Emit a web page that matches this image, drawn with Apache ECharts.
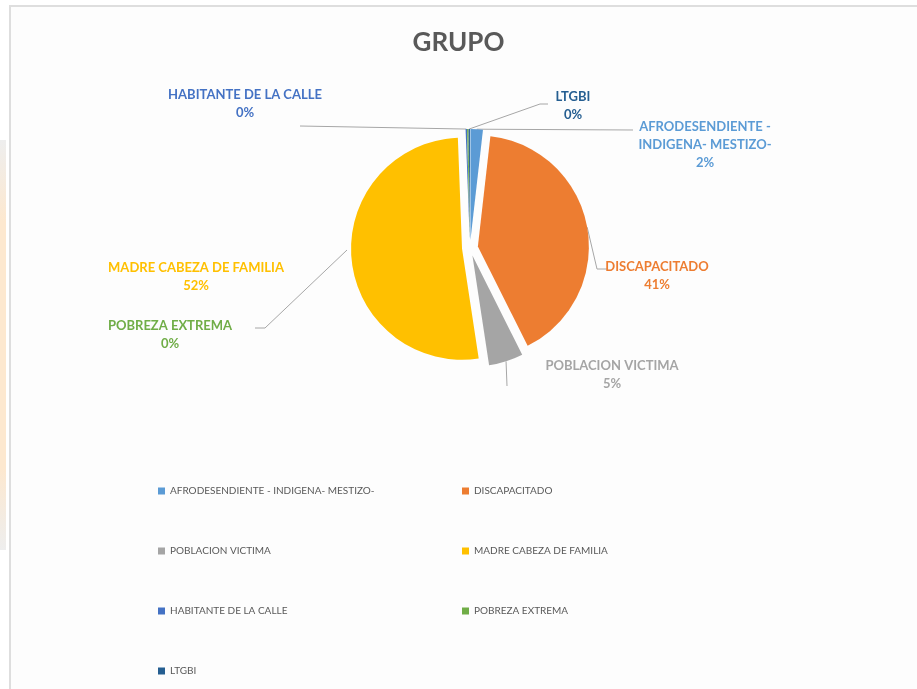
<!DOCTYPE html>
<html>
<head>
<meta charset="utf-8">
<script src="https://cdn.jsdelivr.net/npm/echarts@6/dist/echarts.min.js"></script>
<style>
  html, body { margin: 0; padding: 0; background: #ffffff; }
  #glow { position: absolute; left: 0; top: 140px; width: 6px; height: 410px;
          background: linear-gradient(#eeeeee, #fde8cf 20%, #fde8cf 80%, #eeeeee); }
  #frame { position: absolute; left: 9px; top: 5px; width: 908px; height: 684px;
           border-left: 2px solid #dedede; border-top: 2px solid #dedede; background: #fdfdfd; }
  #grupo { position: absolute; left: 0; top: 0; width: 917px; height: 689px; }
</style>
</head>
<body>
<div id="glow"></div>
<div id="frame"></div>
<div id="grupo"></div>
<script>
// categorias y valores (%)
const categorias = [
  "AFRODESENDIENTE - INDIGENA- MESTIZO-",
  "DISCAPACITADO",
  "POBLACION VICTIMA",
  "MADRE CABEZA DE FAMILIA",
  "HABITANTE DE LA CALLE",
  "POBREZA EXTREMA",
  "LTGBI",
];
const valores = [1.8, 40.8, 5.0, 51.8, 0.2, 0.2, 0.2];
const etiquetas = [
  "AFRODESENDIENTE -\nINDIGENA- MESTIZO-",
  "DISCAPACITADO",
  "POBLACION VICTIMA",
  "MADRE CABEZA DE FAMILIA",
  "HABITANTE DE LA CALLE",
  "POBREZA EXTREMA",
  "LTGBI",
];
const colores = ["#5B9BD5", "#ED7D31", "#A5A5A5", "#FFC000", "#4472C4", "#70AD47", "#255E91"];

// donde va cada etiqueta (centro del texto) y los quiebres de su linea
const posEtiquetas = [
  { x: 705, y: 145, line: [[633, 130]] },
  { x: 657, y: 276, line: [[597, 269], [607, 269]] },
  { x: 612, y: 375, line: [[507, 386]] },
  { x: 196, y: 277, line: null },
  { x: 245, y: 104, line: [[300, 126]] },
  { x: 170, y: 335, line: [[265, 328], [255, 328]], start: [347, 250] },
  { x: 573, y: 106, line: [[540, 104], [548, 104]] },
];

const centro = [470, 248];
const radio = 111;
const separacion = 8;
const fuente = "Lato, 'Open Sans', sans-serif";

const leyendaBase = {
  orient: "vertical",
  top: 479,
  itemGap: 46,
  itemWidth: 7,
  itemHeight: 7,
  icon: "rect",
  selectedMode: false,
  textStyle: { fontFamily: fuente, fontSize: 10, color: "#595959", lineHeight: 14 },
};

let myChart = echarts.init(document.getElementById("grupo"));
let option;
option = {
  animation: false,
  color: colores,
  title: {
    text: "GRUPO",
    left: "center",
    top: 25,
    textStyle: { fontFamily: fuente, fontSize: 26, fontWeight: "bold", color: "#595959" },
  },
  legend: [
    Object.assign({}, leyendaBase, {
      left: 153,
      data: [categorias[0], categorias[2], categorias[4], categorias[6]],
    }),
    Object.assign({}, leyendaBase, {
      left: 457,
      data: [categorias[1], categorias[3], categorias[5]],
    }),
  ],
  series: [
    {
      // porciones separadas (explosion)
      name: "GRUPO",
      type: "pie",
      center: centro,
      radius: radio,
      startAngle: 90,
      selectedMode: "multiple",
      selectedOffset: separacion,
      emphasis: { disabled: true },
      label: { show: false },
      labelLine: { show: false },
      data: categorias.map((c, i) => ({ name: c, value: valores[i], selected: true })),
    },
    {
      // solo etiquetas, sin seleccion para poder ubicarlas
      name: "etiquetas",
      type: "pie",
      center: centro,
      radius: radio,
      startAngle: 90,
      silent: true,
      selectedMode: false,
      percentPrecision: 0,
      emphasis: { disabled: true },
      itemStyle: { color: "rgba(0,0,0,0)" },
      label: {
        show: true,
        position: "outside",
        fontFamily: fuente,
        fontSize: 13,
        fontWeight: "bold",
        lineHeight: 18,
        align: "center",
        formatter: (p) => etiquetas[p.dataIndex] + "\n" + p.percent + "%",
      },
      labelLine: { show: true, lineStyle: { color: "#a6a6a6", width: 1 } },
      labelLayout: (params) => {
        const pos = posEtiquetas[params.dataIndex];
        const res = { x: pos.x, y: pos.y, align: "center", verticalAlign: "middle" };
        if (pos.line) {
          let p0 = pos.start;
          if (!p0 && params.labelLinePoints) {
            const q = params.labelLinePoints[0];
            const dx = q[0] - centro[0];
            const dy = q[1] - centro[1];
            const d = Math.sqrt(dx * dx + dy * dy) || 1;
            p0 = [q[0] + (dx / d) * separacion, q[1] + (dy / d) * separacion];
          }
          const pts = [p0].concat(pos.line);
          if (pts.length < 3) pts.push(pts[pts.length - 1]);
          res.labelLinePoints = pts;
        }
        return res;
      },
      data: categorias.map((c, i) => ({
        name: c,
        value: valores[i],
        label: { color: colores[i] },
        labelLine: { show: posEtiquetas[i].line !== null },
      })),
    },
  ],
};
myChart.setOption(option);
</script>
</body>
</html>
